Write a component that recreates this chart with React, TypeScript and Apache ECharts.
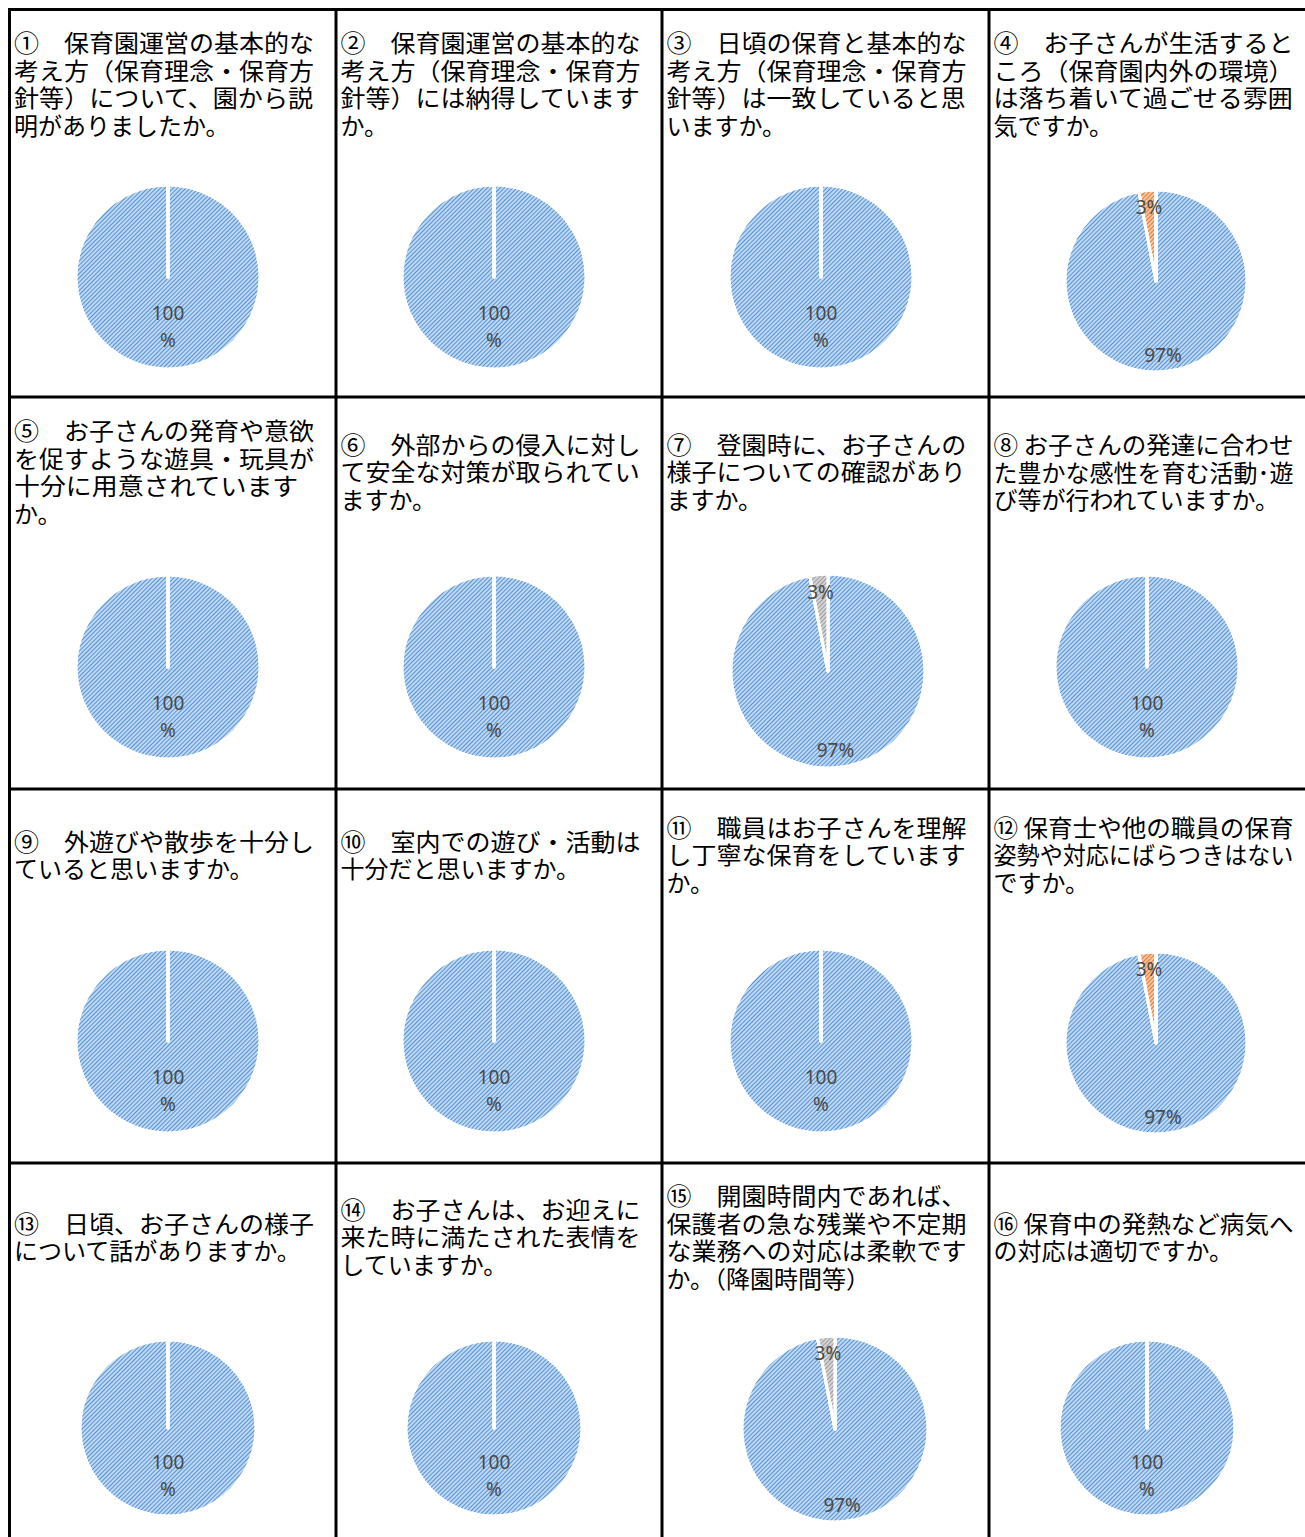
import React, { useEffect, useRef } from "react";
import * as echarts from "echarts";

// ---- data ----
const answerNames = ["はい", "いいえ", "わからない"];

const questionTitles = [
  ["①　保育園運営の基本的な", "考え方（保育理念・保育方", "針等）について、園から説", "明がありましたか。"],
  ["②　保育園運営の基本的な", "考え方（保育理念・保育方", "針等）には納得しています", "か。"],
  ["③　日頃の保育と基本的な", "考え方（保育理念・保育方", "針等）は一致していると思", "いますか。"],
  ["④　お子さんが生活すると", "ころ（保育園内外の環境）", "は落ち着いて過ごせる雰囲", "気ですか。"],
  ["⑤　お子さんの発育や意欲", "を促すような遊具・玩具が", "十分に用意されています", "か。"],
  ["⑥　外部からの侵入に対し", "て安全な対策が取られてい", "ますか。"],
  ["⑦　登園時に、お子さんの", "様子についての確認があり", "ますか。"],
  ["⑧ お子さんの発達に合わせ", "た豊かな感性を育む活動･遊", "び等が行われていますか。"],
  ["⑨　外遊びや散歩を十分し", "ていると思いますか。"],
  ["⑩　室内での遊び・活動は", "十分だと思いますか。"],
  ["⑪　職員はお子さんを理解", "し丁寧な保育をしています", "か。"],
  ["⑫ 保育士や他の職員の保育", "姿勢や対応にばらつきはない", "ですか。"],
  ["⑬　日頃、お子さんの様子", "について話がありますか。"],
  ["⑭　お子さんは、お迎えに", "来た時に満たされた表情を", "していますか。"],
  ["⑮　開園時間内であれば、", "保護者の急な残業や不定期", "な業務への対応は柔軟です", "か。（降園時間等）"],
  ["⑯ 保育中の発熱など病気へ", "の対応は適切ですか。"],
];

const yesShare = [100, 100, 100, 97, 100, 100, 97, 100, 100, 100, 100, 97, 100, 100, 97, 100];
const noShare = [0, 0, 0, 3, 0, 0, 0, 0, 0, 0, 0, 3, 0, 0, 0, 0];
const unknownShare = [0, 0, 0, 0, 0, 0, 3, 0, 0, 0, 0, 0, 0, 0, 3, 0];

// ---- layout ----
const W = 1305;
const H = 1537;
const colLines = [9.5, 336, 662, 989, 1316];
const rowLines = [9.5, 397, 789, 1163, 1560];
const titleCenterY = [83, 471, 854, 1236];
const titleFontSize = 24;
const titleLineHeight = 27.5;
const titleJustifyWidth = 300;
const pieLayout: number[][] = [
  [168, 277, 92], [494, 277, 92], [821, 277, 92], [1156, 281, 91],
  [168, 667, 92], [494, 667, 92], [828, 671, 97], [1147, 667, 92],
  [168, 1041, 92], [494, 1041, 92], [821, 1041, 92], [1156, 1043, 91],
  [168, 1428, 88], [494, 1428, 88], [835, 1429, 93], [1147, 1428, 88],
];

// ---- styles ----
const sliceStyles = [
  { color: "#bfd7f1", stripe: "#5593d5" },
  { color: "#f6c4a0", stripe: "#e97a30" },
  { color: "#d4d4d4", stripe: "#9c9c9c" },
];

const stripeDecal = (c: string) => ({
  symbol: "rect",
  symbolSize: 1,
  color: c,
  dashArrayX: [1, 0],
  dashArrayY: [1, 2],
  rotation: -Math.PI / 4,
});

export default function App() {
  const ref = useRef<HTMLDivElement>(null);
  useEffect(() => {
    if (!ref.current) return;
    const chart = echarts.init(ref.current, undefined, { renderer: "svg" });

    const measureCtx = document.createElement("canvas").getContext("2d");
    const titleFont = `${titleFontSize}px "Noto Sans CJK JP"`;
    if (measureCtx) measureCtx.font = titleFont;
    const measure = (s: string) =>
      measureCtx ? measureCtx.measureText(s).width : s.length * titleFontSize;

    const graphics: any[] = [];
    colLines.forEach((x) =>
      graphics.push({
        type: "line",
        shape: { x1: x, y1: 8, x2: x, y2: H + 40 },
        style: { stroke: "#000", lineWidth: 3 },
        z: 100,
      })
    );
    rowLines.forEach((y) =>
      graphics.push({
        type: "line",
        shape: { x1: 8, y1: y, x2: W + 20, y2: y },
        style: { stroke: "#000", lineWidth: 3 },
        z: 100,
      })
    );
    questionTitles.forEach((lines, i) => {
      const col = i % 4;
      const row = Math.floor(i / 4);
      const n = lines.length;
      lines.forEach((line, k) => {
        const w = measure(line);
        // justified text: wrapped lines fill the text box width
        let sx = k < n - 1 ? titleJustifyWidth / w : 1;
        if (w > titleJustifyWidth) sx = titleJustifyWidth / w;
        sx = Math.max(0.9, Math.min(1.08, sx));
        graphics.push({
          type: "text",
          x: colLines[col] + 4.5,
          y: titleCenterY[row] + (k - (n - 1) / 2) * titleLineHeight,
          scaleX: sx,
          style: {
            text: line,
            fill: "#000",
            fontSize: titleFontSize,
            fontFamily: "Noto Sans CJK JP",
            lineHeight: 26,
            verticalAlign: "middle",
            align: "left",
          },
          z: 50,
        });
      });
    });

    const series: any[] = [];
    questionTitles.forEach((_, i) => {
      const [cx, cy, r] = pieLayout[i];
      const vals = [yesShare[i], noShare[i], unknownShare[i]];
      const data = vals.map((v, k) => ({
        value: v,
        name: answerNames[k],
        itemStyle: {
          color: sliceStyles[k].color,
          decal: stripeDecal(sliceStyles[k].stripe),
        },
      }));
      series.push({
        type: "pie",
        center: [cx, cy],
        radius: r,
        startAngle: 90,
        clockwise: true,
        silent: true,
        label: { show: false },
        labelLine: { show: false },
        itemStyle: { borderColor: "#ffffff", borderWidth: 3 },
        emphasis: { disabled: true },
        data,
      });
      const full = Math.max(...vals) >= 100;
      series.push({
        type: "pie",
        center: [cx, cy],
        radius: [full ? 0 : r * 0.57, r],
        startAngle: 90,
        clockwise: true,
        silent: true,
        z: 5,
        itemStyle: { color: "rgba(0,0,0,0)", borderWidth: 0 },
        emphasis: { disabled: true },
        labelLine: { show: false },
        label: {
          show: true,
          position: "inside",
          color: "#4a4a4a",
          fontSize: 19,
          fontFamily: "Noto Sans",
          lineHeight: 27,
          width: 42,
          overflow: "breakAll",
          formatter: (p: any) => (p.value > 0 ? `${p.percent}%` : ""),
        },
        data: vals.map((v, k) => ({ value: v, name: answerNames[k] })),
      });
    });

    chart.setOption({
      animation: false,
      backgroundColor: "#ffffff",
      series,
      graphic: graphics,
    });
    return () => chart.dispose();
  }, []);
  return (
    <div
      ref={ref}
      style={{ position: "absolute", left: 0, top: 0, width: W, height: H }}
    />
  );
}
